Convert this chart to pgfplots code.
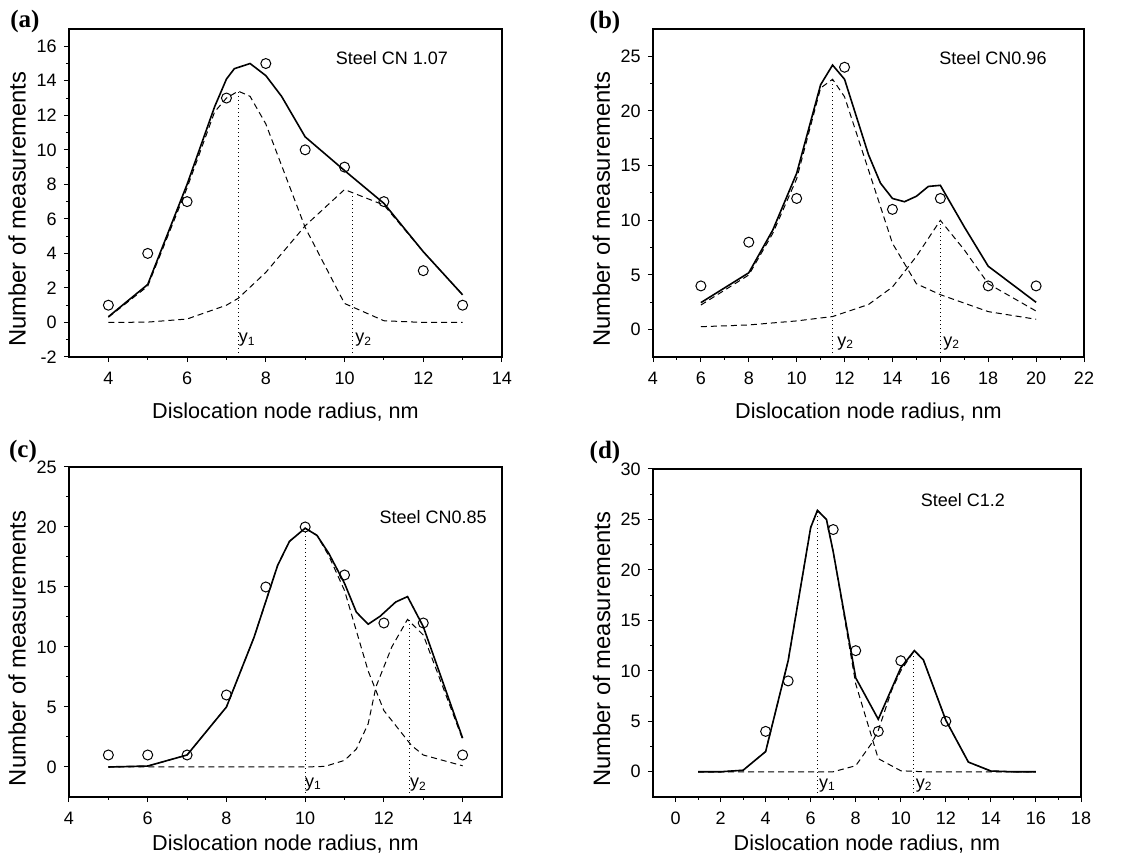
\documentclass[border=0pt]{standalone}
\usepackage{fontspec}
\setmainfont{Liberation Sans}
\newfontfamily\panelfont{Liberation Serif}
\usepackage{pgfplots}
\pgfplotsset{compat=1.18}
\tikzset{lab/.style={font=\fontsize{9}{11}\selectfont}}
\pgfplotsset{
  myaxis/.style={
    scale only axis,
    anchor=south west,
    axis line style={line width=0.6pt},
    tick align=outside, tick pos=left,
    major tick length=2.6pt, minor tick length=1.5pt,
    every tick/.style={black, line width=0.5pt},
    tick label style={font=\fontsize{9}{11}\selectfont},
    xticklabel style={yshift=-1.2pt},
    /pgf/number format/assume math mode=true,
    xlabel={Dislocation node radius, nm},
    ylabel={Number of measurements},
    x label style={at={(axis description cs:0.5,-0.168)},anchor=center,font=\fontsize{10.8}{13}\selectfont},
    y label style={at={(axis description cs:-0.12,0.45)},anchor=center,font=\fontsize{11.9}{14}\selectfont},
    minor x tick num=1, minor y tick num=1,
    clip=false,
  },
  fitl/.style={black, line width=0.8pt, no markers},
  comp/.style={black, line width=0.5pt, no markers, dash pattern=on 3pt off 2pt},
  meas/.style={only marks, mark=o, mark size=2.5pt, black, mark options={line width=0.5pt, solid}},
  peakline/.style={black, line width=0.6pt, dash pattern=on 0.6pt off 1.4pt, no markers},
}
\begin{document}
\begin{tikzpicture}
\useasboundingbox (0,0) rectangle (571pt,430.5pt);
% ---------------- (a)
\begin{axis}[myaxis, at={(34.5pt,252pt)}, width=216.5pt, height=164pt,
  xmin=3, xmax=14, ymin=-2, ymax=17,
  xtick={4,6,...,14}, ytick={-2,0,...,16}]
\addplot[comp] coordinates {(4,0.3)(5,2.1)(6,7.8)(6.7,12.2)(7,13.0)(7.3,13.4)(7.6,13.1)(8,11.5)(9,5.5)(10,1.1)(11,0.1)(12,0)(13,0)};
\addplot[comp] coordinates {(4,0)(5,0.02)(6,0.2)(7,1.0)(7.3,1.4)(8,2.9)(9,5.6)(10,7.7)(11,6.8)(12,4.1)(13,1.6)};
\addplot[fitl] coordinates {(4,0.33)(5,2.2)(6,8.0)(6.7,12.5)(7,14.1)(7.2,14.7)(7.6,15.0)(8,14.3)(8.4,13.1)(9,10.75)(10,8.8)(11,6.9)(12,4.1)(13,1.6)};
\addplot[meas] coordinates {(4,1)(5,4)(6,7)(7,13)(8,15)(9,10)(10,9)(11,7)(12,3)(13,1)};
\addplot[peakline] coordinates {(7.3,-2)(7.3,13.4)};
\addplot[peakline] coordinates {(10.2,-2)(10.2,7.6)};
\node[lab] at (axis cs:7.53,-1.02) {y\textsubscript{1}};
\node[lab] at (axis cs:10.49,-1.02) {y\textsubscript{2}};
\node[lab] at (axis cs:11.2,15.3) {Steel CN 1.07};
\end{axis}
% ---------------- (b)
\begin{axis}[myaxis, at={(326.5pt,252pt)}, width=215.5pt, height=164pt,
  xmin=4, xmax=22, ymin=-2.5, ymax=27.5,
  xtick={4,6,...,22}, ytick={0,5,...,25}]
\addplot[comp] coordinates {(6,2.25)(8,5.0)(9,8.8)(10,13.8)(11,22.1)(11.5,22.9)(12,21.3)(13,14.6)(14,7.9)(15,4.2)(16,3.2)(18,1.65)(20,0.95)};
\addplot[comp] coordinates {(6,0.27)(8,0.43)(10,0.8)(11.5,1.2)(13,2.3)(14,3.9)(15,6.7)(16,10.0)(17,7.3)(18,4.2)(20,1.7)};
\addplot[fitl] coordinates {(6,2.47)(8,5.2)(9,9.1)(10,14.3)(11,22.4)(11.5,24.2)(12,22.9)(13,16.0)(13.5,13.4)(14,12.0)(14.5,11.7)(15,12.2)(15.5,13.1)(16,13.2)(17,9.4)(18,5.8)(20,2.5)};
\addplot[meas] coordinates {(6,4)(8,8)(10,12)(12,24)(14,11)(16,12)(18,4)(20,4)};
\addplot[peakline] coordinates {(11.5,-2.5)(11.5,23)};
\addplot[peakline] coordinates {(16,-2.5)(16,10)};
\node[lab] at (axis cs:12.05,-1.25) {y\textsubscript{2}};
\node[lab] at (axis cs:16.47,-1.25) {y\textsubscript{2}};
\node[lab] at (axis cs:18.2,24.85) {Steel CN0.96};
\end{axis}
% ---------------- (c)
\begin{axis}[myaxis, at={(34.5pt,32pt)}, width=216.5pt, height=165pt,
  xmin=4, xmax=15, ymin=-2.5, ymax=25,
  xtick={4,6,...,14}, ytick={0,5,...,25},
  x label style={at={(axis description cs:0.5,-0.143)}}]
\addplot[comp] coordinates {(5,0)(6,0.08)(7,1.0)(8,5.0)(8.7,10.8)(9.3,16.8)(9.6,18.8)(10,19.9)(10.3,19.3)(10.6,17.6)(11,14.7)(11.6,8.0)(12,4.7)(12.7,1.8)(13,1.0)(14,0.1)};
\addplot[comp] coordinates {(5,0)(10,0)(10.5,0.05)(11,0.55)(11.3,1.5)(11.6,3.6)(11.8,6.7)(12.2,10)(12.6,12.3)(13,11.0)(14,2.3)};
\addplot[fitl] coordinates {(5,0)(6,0.08)(7,1.0)(8,5.0)(8.7,10.8)(9.3,16.8)(9.6,18.8)(10,19.9)(10.3,19.3)(10.6,17.8)(11,15.3)(11.3,12.9)(11.6,11.9)(11.9,12.55)(12.3,13.75)(12.6,14.2)(13,11.7)(14,2.4)};
\addplot[meas] coordinates {(5,1)(6,1)(7,1)(8,6)(9,15)(10,20)(11,16)(12,12)(13,12)(14,1)};
\addplot[peakline] coordinates {(10,-2.5)(10,20)};
\addplot[peakline] coordinates {(12.65,-2.5)(12.65,12.3)};
\node[lab] at (axis cs:10.21,-1.5) {y\textsubscript{1}};
\node[lab] at (axis cs:12.88,-1.5) {y\textsubscript{2}};
\node[lab] at (axis cs:13.25,20.83) {Steel CN0.85};
\end{axis}
% ---------------- (d)
\begin{axis}[myaxis, at={(326.5pt,32pt)}, width=214pt, height=164pt,
  xmin=-1, xmax=18, ymin=-2.5, ymax=30,
  xtick={0,2,...,18}, ytick={0,5,...,30},
  x label style={at={(axis description cs:0.5,-0.143)}}]
\addplot[comp] coordinates {(1,0)(2,0)(3,0.15)(4,2.0)(5,11.0)(6,24.2)(6.3,25.9)(6.7,25.0)(7,21.8)(8,8.7)(9,1.3)(10,0.1)(11,0)(12,0)(13,0)(14,0)(15,0)(16,0)};
\addplot[comp] coordinates {(1,0)(2,0)(3,0)(4,0)(5,0)(6,0)(7,0)(8,0.6)(8.7,2.8)(9,4.1)(9.6,8.1)(10,10)(10.6,12.0)(11,11.1)(12,5.1)(13,0.96)(14,0.07)(15,0)(16,0)};
\addplot[fitl] coordinates {(1,0)(2,0)(3,0.15)(4,2.0)(5,11.0)(6,24.2)(6.3,25.9)(6.7,25.0)(7,21.8)(8,9.3)(9,5.2)(10,10.3)(10.6,12.0)(11,11.1)(12,5.1)(13,0.96)(14,0.07)(15,0)(16,0)};
\addplot[meas] coordinates {(4,4)(5,9)(7,24)(8,12)(9,4)(10,11)(12,5)};
\addplot[peakline] coordinates {(6.3,-2.5)(6.3,25.9)};
\addplot[peakline] coordinates {(10.55,-2.5)(10.55,12)};
\node[lab] at (axis cs:6.74,-1.36) {y\textsubscript{1}};
\node[lab] at (axis cs:11.04,-1.36) {y\textsubscript{2}};
\node[lab] at (axis cs:12.76,26.9) {Steel C1.2};
\end{axis}
% panel letters
\node[font=\panelfont\bfseries\fontsize{12.5}{14}\selectfont] at (12.5pt,419.5pt) {(a)};
\node[font=\panelfont\bfseries\fontsize{12.5}{14}\selectfont] at (302.5pt,419pt) {(b)};
\node[font=\panelfont\bfseries\fontsize{12.5}{14}\selectfont] at (11.5pt,205pt) {(c)};
\node[font=\panelfont\bfseries\fontsize{12.5}{14}\selectfont] at (302.5pt,204.5pt) {(d)};
\end{tikzpicture}
\end{document}
